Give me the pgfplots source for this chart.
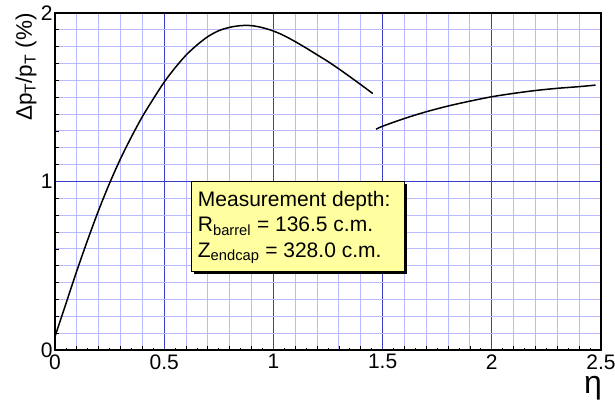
\documentclass[border=0pt]{standalone}
\usepackage{pgfplots}
\pgfplotsset{compat=1.18}
\usepackage{pgfplotstable}
\usepackage{fontspec}
\setmainfont{Liberation Sans}
\usetikzlibrary{calc}
\definecolor{majgrid}{RGB}{60,60,200}
\definecolor{mingrid}{RGB}{185,185,255}
\definecolor{boxfill}{RGB}{255,255,160}

% barrel part of the curve
\pgfplotstableread{
eta   dpt
0.00  0.080
0.05  0.275
0.10  0.470
0.15  0.655
0.20  0.830
0.25  0.990
0.30  1.135
0.35  1.265
0.40  1.385
0.45  1.490
0.50  1.590
0.55  1.675
0.60  1.750
0.65  1.810
0.70  1.860
0.75  1.895
0.80  1.915
0.85  1.925
0.90  1.925
0.95  1.913
1.00  1.893
1.05  1.865
1.10  1.830
1.15  1.792
1.20  1.752
1.25  1.712
1.30  1.668
1.35  1.622
1.40  1.575
1.455 1.522
}\barrel

% endcap part
\pgfplotstableread{
eta   dpt
1.47  1.310
1.50  1.328
1.60  1.374
1.70  1.414
1.80  1.448
1.90  1.477
2.00  1.503
2.10  1.523
2.20  1.540
2.30  1.553
2.40  1.563
2.475 1.572
}\endcap

\begin{document}
\begin{tikzpicture}
\begin{axis}[
  scale only axis, width=546pt, height=337pt,
  xmin=0, xmax=2.5, ymin=0, ymax=2,
  xtick={0,0.5,1,1.5,2,2.5}, ytick={0,1,2},
  minor x tick num=4, minor y tick num=9,
  grid=both,
  major grid style={majgrid, line width=1.3pt},
  minor grid style={mingrid, line width=1pt},
  axis line style={black, line width=1.6pt},
  tick align=inside, tick pos=left,
  major tick length=0pt, minor tick length=4pt,
  tick style={black, line width=0.8pt},
  extra x ticks={0.05,0.15,...,2.45}, extra x tick labels={},
  extra x tick style={grid=none, major tick length=2.5pt},
  tick label style={font=\fontsize{21}{21}\selectfont},
  /pgf/number format/assume math mode=true,
  xticklabel style={yshift=-1pt},
  yticklabel style={xshift=1pt},
  clip=false,
]
\coordinate (sw) at (rel axis cs:0,0);
\coordinate (ne) at (rel axis cs:1,1);

\addplot[black, line width=1.5pt, no marks, smooth] table[x=eta, y=dpt] {\barrel};
\addplot[black, line width=1.5pt, no marks, smooth] table[x=eta, y=dpt] {\endcap};

% text box
\fill[black] ([xshift=2.5pt,yshift=-2.5pt]axis cs:0.626,0.465) rectangle ([xshift=2.5pt,yshift=-2.5pt]axis cs:1.599,0.999);
\draw[fill=boxfill, line width=0.9pt] (axis cs:0.626,0.465) rectangle (axis cs:1.599,0.999);
\node[anchor=north west, align=left, inner sep=0pt, font=\fontsize{21}{25.5}\selectfont]
  at ([xshift=6pt,yshift=-9pt]axis cs:0.626,0.999)
  {Measurement depth:\\R\textsubscript{barrel} = 136.5 c.m.\\Z\textsubscript{endcap} = 328.0 c.m.};

% axis titles
\node[anchor=east, rotate=90, inner sep=0pt, font=\fontsize{22.5}{22.5}\selectfont]
  at ([xshift=-29pt]rel axis cs:0,1) {Δp\textsubscript{T}/p\textsubscript{T} (\%)};
\node[anchor=north east, inner sep=0pt, font=\fontsize{32}{32}\selectfont]
  at ([xshift=1pt,yshift=-26pt]rel axis cs:1,0) {η};
\end{axis}
\pgfresetboundingbox
\path ($(sw)+(-55pt,-52pt)$) rectangle ($(ne)+(14pt,13pt)$);
\end{tikzpicture}
\end{document}
